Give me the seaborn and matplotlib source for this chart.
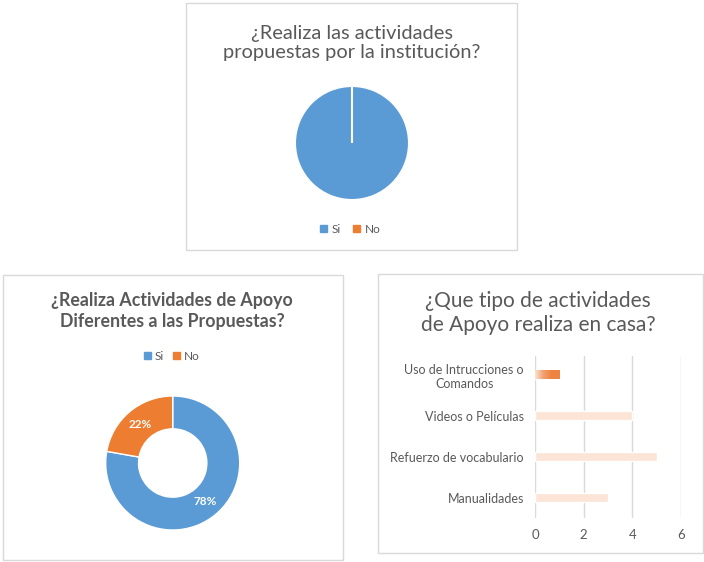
import matplotlib
matplotlib.use("Agg")
import matplotlib.pyplot as plt
import matplotlib.patches as mpatches
from matplotlib.colors import LinearSegmentedColormap
import seaborn as sns
import numpy as np
import pandas as pd

# ---------------- data ----------------
pie1_labels = ["Si", "No"]
pie1_values = [9, 0]

donut_labels = ["Si", "No"]
donut_values = [7, 2]

bar_categories = ["Uso de Intrucciones o\nComandos", "Videos o Películas",
                  "Refuerzo de vocabulario", "Manualidades"]
bar_values = [1, 4, 5, 3]
bar_ticks = [0, 2, 4, 6]

title1 = "¿Realiza las actividades\npropuestas por la institución?"
title2 = "¿Realiza Actividades de Apoyo\nDiferentes a las Propuestas?"
title3 = "¿Que tipo de actividades\nde Apoyo realiza en casa?"

# ---------------- style ----------------
sns.set_theme(style="white")
plt.rcParams["font.family"] = ["Lato", "DejaVu Sans"]

BLUE = "#5B9BD5"
ORANGE = "#ED7D31"
GRAY = "#595959"
BORDER = "#D9D9D9"

W, H = 704, 562
fig = plt.figure(figsize=(W / 100, H / 100), dpi=100)
fig.patch.set_facecolor("white")


def fx(px):
    return px / W


def fy(py):
    return 1 - py / H


def box(x0, y0, x1, y1):
    fig.patches.append(mpatches.Rectangle((fx(x0), fy(y1)), fx(x1) - fx(x0), fy(y0) - fy(y1),
                                          transform=fig.transFigure, fill=False,
                                          edgecolor=BORDER, linewidth=1.0))


# chart borders
box(186, 3, 517, 250)
box(3, 275, 343, 560)
box(378, 274, 703, 553)

# ---------------- chart 1: pie ----------------
cx, cy, r = 352, 143, 57
ax1 = fig.add_axes([fx(cx - r), fy(cy + r), fx(2 * r), (2 * r) / H])
ax1.pie(pie1_values, colors=[BLUE, ORANGE], startangle=90, counterclock=False,
        radius=1, wedgeprops=dict(edgecolor="white", linewidth=1.5))
ax1.set_xlim(-1, 1)
ax1.set_ylim(-1, 1)
ax1.set_aspect("equal")
ax1.axis("off")
fig.text(fx(352), fy(43), title1, ha="center", va="center", fontsize=14.4,
         color=GRAY, linespacing=1.2)
h1 = [mpatches.Patch(color=c, label=l) for c, l in zip([BLUE, ORANGE], pie1_labels)]
fig.legend(handles=h1, loc="center", bbox_to_anchor=(fx(350), fy(229)), ncol=2,
           frameon=False, fontsize=8.5, handlelength=0.6, handleheight=0.6,
           handletextpad=0.4, columnspacing=1.0, labelcolor=GRAY)

# ---------------- chart 2: donut ----------------
cx, cy, r = 172.7, 463, 67
ax2 = fig.add_axes([fx(cx - r), fy(cy + r), fx(2 * r), (2 * r) / H])
wedges, texts, autotexts = ax2.pie(donut_values, colors=[BLUE, ORANGE], startangle=90,
                                   counterclock=False, radius=1, autopct="%1.0f%%",
                                   pctdistance=0.75,
                                   wedgeprops=dict(width=0.49, edgecolor="white", linewidth=1))
for t in autotexts:
    t.set_color("white")
    t.set_fontweight("bold")
    t.set_fontsize(8.5)
ax2.set_xlim(-1, 1)
ax2.set_ylim(-1, 1)
ax2.set_aspect("equal")
ax2.axis("off")
fig.text(fx(172), fy(311), title2, ha="center", va="center", fontsize=12.8,
         fontweight="bold", color=GRAY, linespacing=1.3)
h2 = [mpatches.Patch(color=c, label=l) for c, l in zip([BLUE, ORANGE], donut_labels)]
fig.legend(handles=h2, loc="center", bbox_to_anchor=(fx(172), fy(356)), ncol=2,
           frameon=False, fontsize=8.5, handlelength=0.6, handleheight=0.6,
           handletextpad=0.3, columnspacing=0.8, labelcolor=GRAY)

# ---------------- chart 3: bars ----------------
ax3 = fig.add_axes([fx(535), fy(518), fx(681) - fx(535), (518 - 356) / H])
df = pd.DataFrame({"cat": bar_categories, "val": bar_values})
bar_colors = ["#EE8440", "#FCE4D6", "#FCE4D6", "#FCE4D6"]
sns.barplot(data=df, y="cat", x="val", hue="cat", palette=bar_colors, orient="h",
            width=0.22, legend=False, ax=ax3, saturation=1)
ax3.set_xlim(0, 6)
ax3.set_ylim(3.49, -0.46)
ax3.set_xticks(bar_ticks)
ax3.grid(axis="x", color=BORDER, linewidth=1)
ax3.grid(axis="y", visible=False)
ax3.set_axisbelow(True)
for s in ax3.spines.values():
    s.set_visible(False)
ax3.set_xlabel("")
ax3.set_ylabel("")
ax3.tick_params(axis="both", length=0, labelsize=9, labelcolor=GRAY)
ax3.tick_params(axis="x", labelsize=9.5, pad=8)
ax3.tick_params(axis="y", pad=8)
for lab in ax3.get_yticklabels():
    lab.set_multialignment("center")

# gradient on the first (highlighted) bar
first = ax3.patches[0]
bx, by = first.get_x(), first.get_y()
bw, bh = first.get_width(), first.get_height()
cmap = LinearSegmentedColormap.from_list("g", ["#FBE2D0", "#F0A070", "#EE8440", "#EE8440"])
grad = np.linspace(0, 1, 64).reshape(1, -1)
im = ax3.imshow(grad, cmap=cmap, aspect="auto", extent=[bx, bx + bw, by + bh, by],
                zorder=first.get_zorder() + 0.1)
im.set_clip_path(first)
ax3.set_xlim(0, 6)
ax3.set_ylim(3.49, -0.46)

fig.text(fx(538), fy(313), title3, ha="center", va="center", fontsize=15,
         color=GRAY, linespacing=1.2)

fig.savefig("out.png", dpi=100, facecolor="white")
